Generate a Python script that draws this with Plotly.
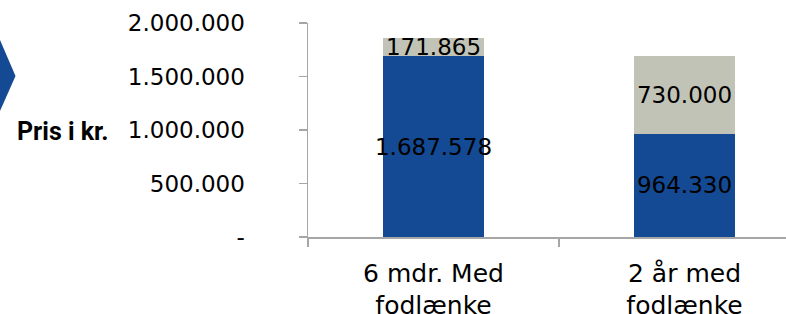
import plotly.graph_objects as go

categories = ["6 mdr. Med<br>fodlænke", "2 år med<br>fodlænke"]
base_values = [1687578, 964330]
extra_values = [171865, 730000]
y_tick_vals = [0, 500000, 1000000, 1500000, 2000000]
y_tick_text = ["-", "500.000", "1.000.000", "1.500.000", "2.000.000"]
y_title = "Pris i kr."

FONT = "DejaVu Sans"
BLUE = "#134A93"
GRAY = "#C2C3B7"
AXIS = "#A6A6A6"

fig = go.Figure()
for vals, col in [(base_values, BLUE), (extra_values, GRAY)]:
    fig.add_trace(go.Bar(
        x=categories, y=vals, marker=dict(color=col, line=dict(width=0)),
        width=0.40, texttemplate="%{y:,.0f}", textposition="inside", textangle=0,
        insidetextanchor="middle", constraintext="none",
        insidetextfont=dict(family=FONT, size=23, color="#000000"),
        hoverinfo="skip"))

W, H = 786, 314
L, R, T, B = 308, 0, 23, 77
pw, ph = W - L - R, H - T - B

def px(x):
    return (x - L) / pw

def py(y):
    return (H - B - y) / ph

fig.add_shape(type="path", xref="paper", yref="paper",
              path=f"M {px(-2)},{py(40)} L {px(0)},{py(40)} L {px(15.5)},{py(76)} L {px(0)},{py(111)} L {px(-2)},{py(111)} Z",
              fillcolor=BLUE, line=dict(width=0), layer="above")

fig.add_annotation(text="<b>" + y_title + "</b>", xref="paper", yref="paper",
                   x=px(15), y=py(131), xanchor="left", yanchor="middle",
                   showarrow=False, font=dict(family="Roboto", size=25, color="#000000"))

fig.update_layout(
    width=W, height=H, barmode="stack", showlegend=False,
    separators=",.",
    margin=dict(l=L, r=R, t=T, b=B, pad=0, autoexpand=False),
    plot_bgcolor="white", paper_bgcolor="white",
    font=dict(family=FONT, size=23, color="#000000"),
    xaxis=dict(range=[-0.5, -0.5 + pw / 251.0], showline=True, linecolor=AXIS, linewidth=1.5,
               ticks="outside", tickson="boundaries", ticklen=8, tickcolor=AXIS, tickwidth=1.5,
               showgrid=False, zeroline=False, automargin=False, ticklabelstandoff=13,
               tickfont=dict(family=FONT, size=25, color="#000000")),
    yaxis=dict(range=[0, 2000000], tickvals=y_tick_vals, ticktext=y_tick_text,
               showline=True, linecolor=AXIS, linewidth=1.5, ticks="outside", ticklen=8,
               tickcolor=AXIS, tickwidth=1.5, showgrid=False, zeroline=False, automargin=False,
               ticklabelstandoff=49, tickfont=dict(family=FONT, size=23, color="#000000")),
)

fig.write_html("out.html", config={"displayModeBar": False, "staticPlot": True},
               post_script="document.body.style.margin='0';document.body.style.overflow='hidden';")
